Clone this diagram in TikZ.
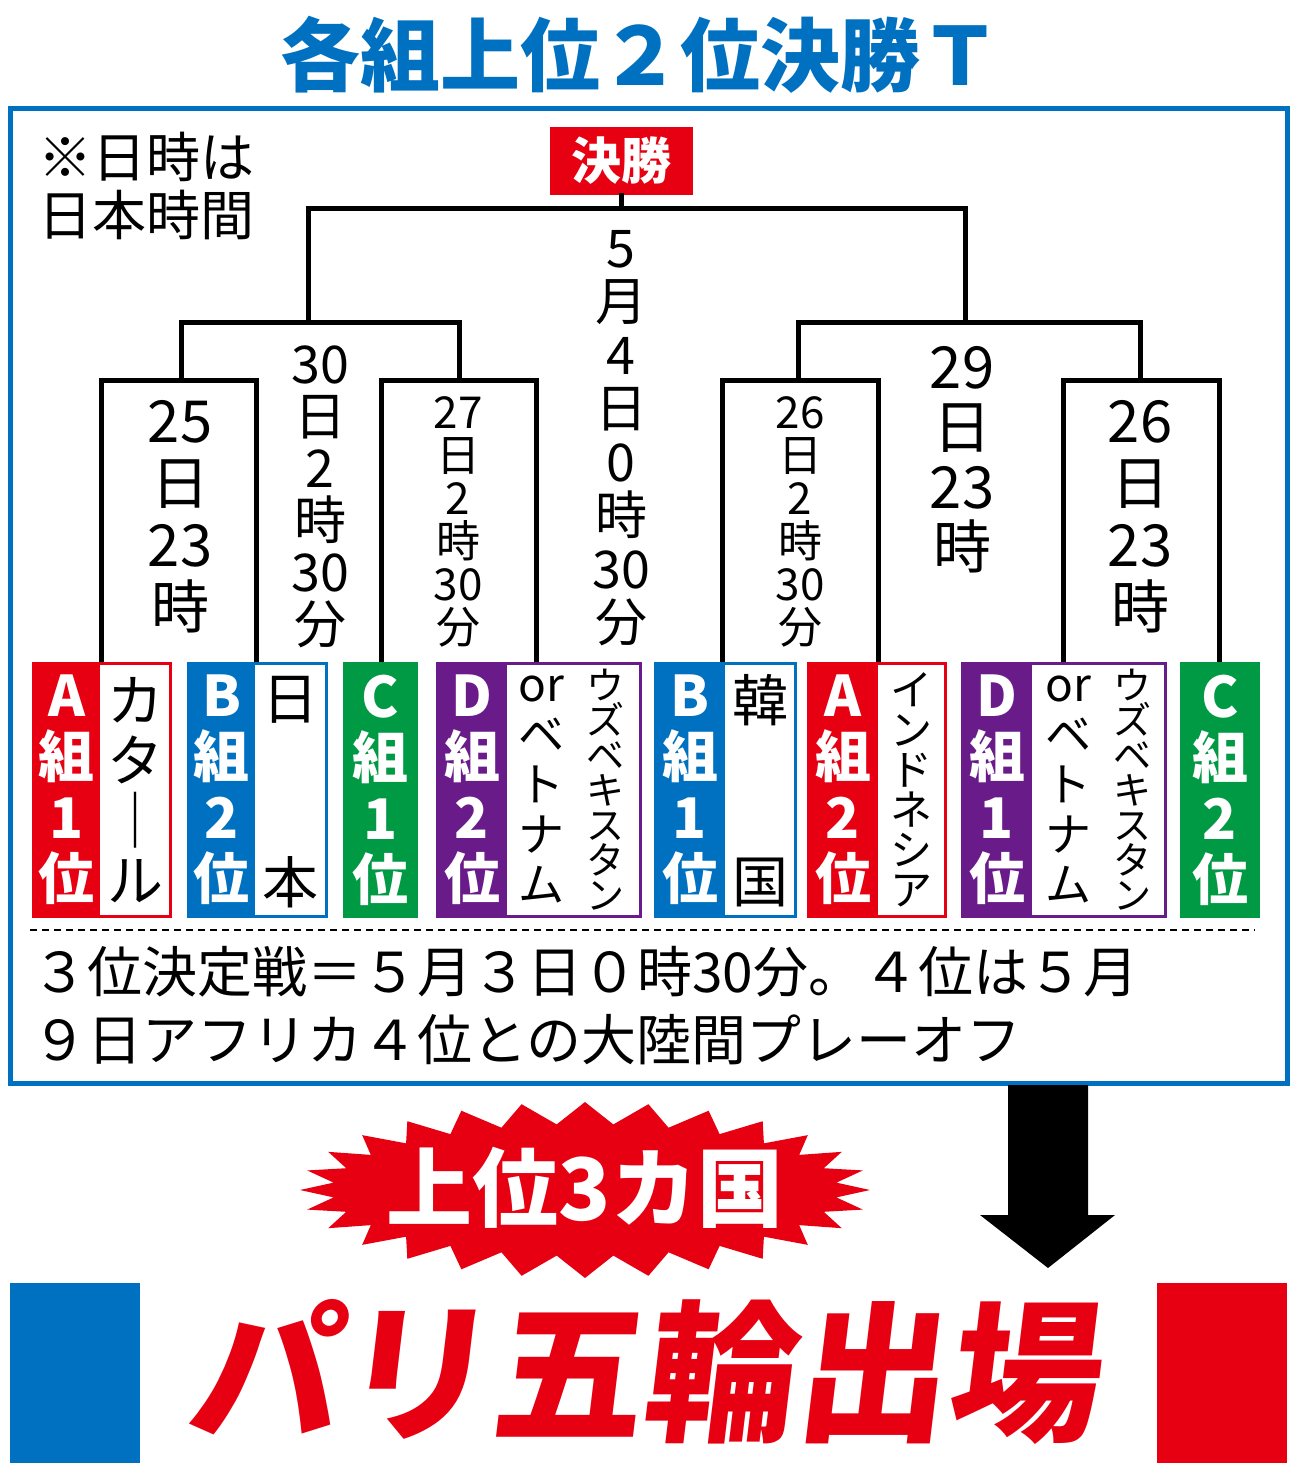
\documentclass[tikz,border=0pt]{standalone}
\usepackage{fontspec}
\newfontfamily\cjk{Noto Sans CJK JP}
\definecolor{jr}{HTML}{E60012}
\definecolor{jb}{HTML}{0070C0}
\definecolor{jg}{HTML}{009944}
\definecolor{jp}{HTML}{6A1B8A}
\newcommand\fs[2]{\fontsize{#1}{#2}\selectfont}
\begin{document}
\begin{tikzpicture}[x=1pt,y=-1pt,every node/.style={inner sep=0,outer sep=0,font=\cjk},
 br/.style={line width=5pt,line cap=rect},
 date/.style={align=center,font=\cjk\fs{54}{56}},
 lab/.style={align=center,text=white,font=\cjk\bfseries\fs{56}{61}},
 nm/.style={align=center}]
\useasboundingbox (0,0) rectangle (1300,1475);
\node[text=jb,font=\cjk\bfseries\fs{80}{80}] (title) at (640,55) {各組上位２位決勝Ｔ};
\draw[jb,line width=5pt] (10,108) rectangle (1287,1083);
\node[anchor=north west,align=left,font=\cjk\fs{54}{58}] (note) at (38,132) {※日時は\\日本時間};
\node[fill=jr,minimum width=143,minimum height=68,text=white,font=\cjk\bfseries\fs{50}{50}] (fin) at (621,161) {決勝};
% bracket
\draw[br] (fin.south) -- (621,208);
\draw[br] (308,322) -- (308,208) -- (965,208) -- (965,322);
\draw[br] (181,380) -- (181,322) -- (459,322) -- (459,380);
\draw[br] (798,380) -- (798,322) -- (1140,322) -- (1140,380);
\foreach \a/\b in {101/256,381/536,722/878,1063/1219}{
 \draw[br] (\a,662) -- (\a,380) -- (\b,380) -- (\b,662);}
% dates
\node[date,font=\cjk\fs{58}{62}] (d1) at (180,517) {25\\日\\23\\時};
\node[date,font=\cjk\fs{52}{52}] (d2) at (320,497) {30\\日\\2\\時\\30\\分};
\node[date,font=\cjk\fs{44}{43}] (d3) at (458,522) {27\\日\\2\\時\\30\\分};
\node[date,font=\cjk\fs{52}{53.5}] (d4) at (621,438) {5\\月\\4\\日\\0\\時\\30\\分};
\node[date,font=\cjk\fs{44}{43}] (d5) at (800,522) {26\\日\\2\\時\\30\\分};
\node[date,font=\cjk\fs{58}{60}] (d6) at (962,460) {29\\日\\23\\時};
\node[date,font=\cjk\fs{58}{62}] (d7) at (1140,517) {26\\日\\23\\時};
% teams
\newcommand\lab[4]{\fill[#1] (#2,662) rectangle (#3,918); \node[lab] at ({(#2+#3)/2},790) {#4};}
\newcommand\frm[3]{\draw[#1,line width=3pt] (#2,663.5) rectangle (#3,916.5);}
\lab{jr}{33}{100}{A\\組\\1\\位}\frm{jr}{33}{170}
\node[nm,font=\cjk\fs{56}{60}] (t1) at (135,790) {カ\\タ\\｜\\ル};
\lab{jb}{188}{255}{B\\組\\2\\位}\frm{jb}{188}{326}
\node[font=\cjk\fs{56}{56}] (t2a) at (290,700) {日};
\node[font=\cjk\fs{56}{56}] (t2b) at (290,882) {本};
\lab{jg}{343}{418}{C\\組\\1\\位}
\lab{jp}{437}{507}{D\\組\\2\\位}\frm{jp}{437}{640}
\node[nm,font=\cjk\fs{46}{50}] (t4a) at (541,789) {or\\ベ\\ト\\ナ\\ム};
\node[nm,font=\cjk\fs{38}{35}] (t4b) at (605,790) {ウ\\ズ\\ベ\\キ\\ス\\タ\\ン};
\lab{jb}{655}{725}{B\\組\\1\\位}\frm{jb}{655}{795}
\node[font=\cjk\fs{56}{56}] (t5a) at (760,700) {韓};
\node[font=\cjk\fs{56}{56}] (t5b) at (760,882) {国};
\lab{jr}{808}{878}{A\\組\\2\\位}\frm{jr}{808}{945}
\node[nm,font=\cjk\fs{42}{40}] (t6) at (911,790) {イ\\ン\\ド\\ネ\\シ\\ア};
\lab{jp}{962}{1032}{D\\組\\1\\位}\frm{jp}{962}{1165}
\node[nm,font=\cjk\fs{46}{50}] (t7a) at (1068,789) {or\\ベ\\ト\\ナ\\ム};
\node[nm,font=\cjk\fs{38}{35}] (t7b) at (1132,790) {ウ\\ズ\\ベ\\キ\\ス\\タ\\ン};
\lab{jg}{1180}{1260}{C\\組\\2\\位}
% note
\draw[line width=2.5pt,dash pattern=on 7pt off 5pt] (30,930) -- (1255,930);
\node[anchor=west,font=\cjk\fs{55}{55}] (n1) at (32,972) {３位決定戦＝５月３日０時30分。４位は５月};
\node[anchor=west,font=\cjk\fs{55}{55}] (n2) at (32,1040) {９日アフリカ４位との大陸間プレーオフ};
% arrow
\fill (1008,1085) -- (1088,1085) -- (1088,1215) -- (1115,1215) -- (1048,1268) -- (980,1215) -- (1008,1215) -- cycle;
% starburst
\fill[jr] plot[samples=57,domain=0:56,variable=\i] ({585+(285-32*mod(\i,2))*cos(\i*45/7)},{1190+(88-22*mod(\i,2))*sin(\i*45/7)}) -- cycle;
\node[text=white,font=\cjk\bfseries\fs{86}{86}] (top3) at (585,1188) {上位3カ国};
% bottom
\fill[jb] (10,1283) rectangle (140,1463);
\fill[jr] (1157,1283) rectangle (1287,1463);
\node[text=jr,font=\cjk\bfseries\fs{152}{152},xslant=0.12] (paris) at (648,1372) {パリ五輪出場};
\end{tikzpicture}
\end{document}
